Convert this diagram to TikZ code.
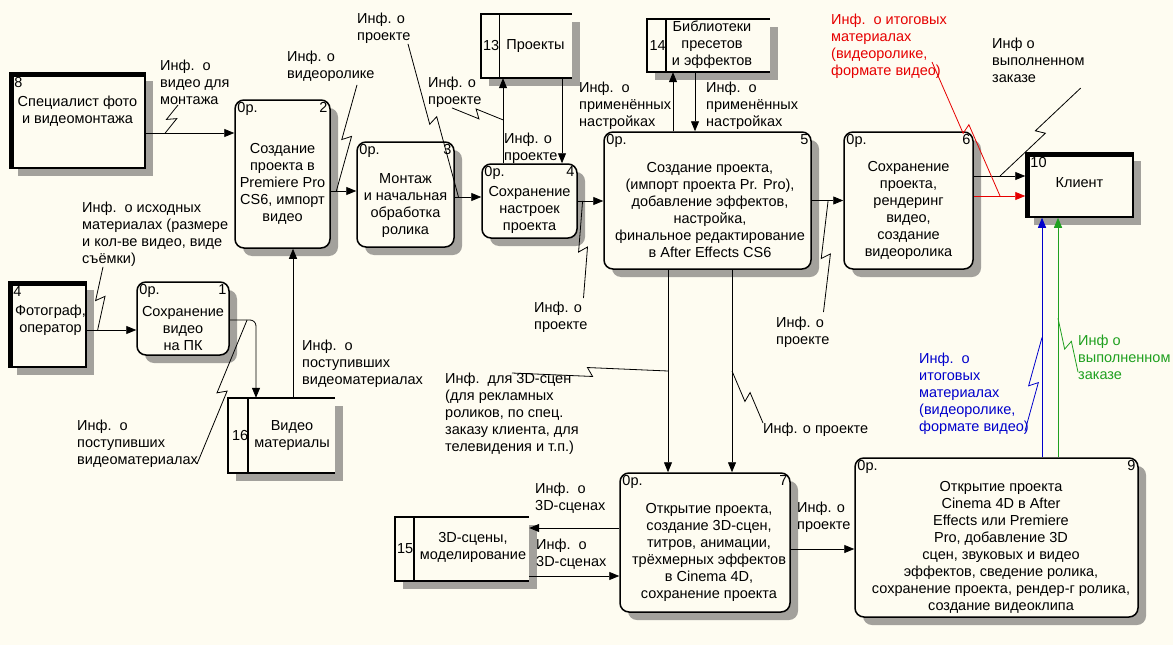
\documentclass[tikz,border=0pt]{standalone}
\usepackage{fontspec}
\setmainfont{Liberation Sans}
\usetikzlibrary{arrows.meta,calc}
\definecolor{paper}{HTML}{FEFCF1}
\definecolor{flowred}{HTML}{E60000}
\definecolor{flowblue}{HTML}{0000CC}
\definecolor{flowgreen}{HTML}{1FA01F}
\definecolor{shadowgray}{HTML}{A3A19C}

\begin{document}
\begin{tikzpicture}[x=1pt,y=-1pt,
  font=\fontsize{14.5}{17}\selectfont,
  boxsize/.style 2 args={minimum width=#1pt,minimum height=#2pt},
  proc/.style={draw,line width=1.5pt,rounded corners=9pt,fill=paper,inner sep=0pt},
  ent/.style={draw,line width=1.5pt,fill=paper,inner sep=0pt},
  store/.style={fill=paper,inner sep=0pt},
  hdr/.style={inner sep=3pt},
  enthdr/.style={inner sep=5pt,anchor=north west},
  body/.style={align=center,inner sep=0pt},
  note/.style={align=left,anchor=north west,inner sep=0pt},
  flow/.style={line width=0.8pt,-{Triangle[length=10pt,width=8pt]}},
  squig/.style={to path={-- ($(\tikztostart)!0.5!(\tikztotarget)!2.5pt!(\tikztotarget)!-4.5pt!90:(\tikztotarget)$) -- ($(\tikztostart)!0.5!(\tikztotarget)!-2.5pt!(\tikztotarget)!4.5pt!90:(\tikztotarget)$) -- (\tikztotarget)}},
  lead/.style={line width=0.8pt,squig}]
\fill[paper] (0,0) rectangle (1173,645);
\foreach \cx/\cy/\w/\h/\r in {282.5/174/95/148/9,405.5/194.5/97/105/9,529.5/201/95/74/9,707.5/200.5/207/137/9,
  908.5/200.5/129/137/9,183/318.5/92/73/9,705/542.5/170/139/9,996.5/537.5/283/159/9,
  77.5/120.5/135/95/0,47.5/324.5/77/85/0,1079.5/185/107/64/0,
  526.5/46/91/64/0,708.5/45.5/123/53/0,281.5/435.5/107/75/0,462/549/134/64/0}
  \fill[shadowgray,rounded corners=\r pt] (\cx-\w/2+8,\cy-\h/2+8) rectangle (\cx+\w/2+8,\cy+\h/2+8);

\node[ent,boxsize={135}{95},label={[enthdr]north west:8},
  label={[body,yshift=9pt]center:Специалист фото\\и видеомонтажа}] (e8) at (77.5,120.5) {};
\node[ent,boxsize={77}{85},label={[enthdr]north west:4},
  label={[body,yshift=4.5pt,xshift=3pt]center:Фотограф,\\оператор}] (e4) at (47.5,324.5) {};
\node[ent,boxsize={107}{64},label={[enthdr]north west:10},
  label={[body,yshift=2pt]center:Клиент}] (e10) at (1079.5,185) {};
\foreach \e in {e8,e4,e10}
  \draw[line width=4.5pt,line join=miter] ([xshift=2.25pt]\e.south west) -- ([xshift=2.25pt,yshift=-2.25pt]\e.north west) -- ([yshift=-2.25pt]\e.north east);

\node[proc,boxsize={95}{148},label={[hdr,anchor=north west]north west:0р.},label={[hdr,anchor=north east]north east:2},
  label={[body,yshift=-9.5pt]center:Создание\\проекта в\\Premiere Pro\\CS6, импорт\\видео}] (p2) at (282.5,174) {};
\node[proc,boxsize={97}{105},label={[hdr,anchor=north west]north west:0р.},label={[hdr,anchor=north east]north east:3},
  label={[body,yshift=-11pt]center:Монтаж\\и начальная\\обработка\\ролика}] (p3) at (405.5,194.5) {};
\node[proc,boxsize={95}{74},label={[hdr,anchor=north west]north west:0р.},label={[hdr,anchor=north east]north east:4},
  label={[body,yshift=-9pt]center:Сохранение\\настроек\\проекта}] (p4) at (529.5,201) {};
\node[proc,boxsize={207}{137},label={[hdr,anchor=north west]north west:0р.},label={[hdr,anchor=north east]north east:5},
  label={[body,yshift=-10pt,xshift=2.5pt]center:Создание проекта,\\(импорт проекта Pr. Pro),\\добавление эффектов,\\настройка,\\финальное редактирование\\в After Effects CS6}] (p5) at (707.5,200.5) {};
\node[proc,boxsize={129}{137},label={[hdr,anchor=north west]north west:0р.},label={[hdr,anchor=north east]north east:6},
  label={[body,yshift=-10pt]center:Сохранение\\проекта,\\рендеринг\\видео,\\создание\\видеоролика}] (p6) at (908.5,200.5) {};
\node[proc,boxsize={92}{73},label={[hdr,anchor=north west]north west:0р.},label={[hdr,anchor=north east]north east:1},
  label={[body,yshift=-10.5pt]center:Сохранение\\видео\\на ПК}] (p1) at (183,318.5) {};
\node[proc,boxsize={170}{139},label={[hdr,anchor=north west]north west:0р.},label={[hdr,anchor=north east]north east:7},
  label={[body,yshift=-10pt,xshift=4pt]center:Открытие проекта,\\создание 3D-сцен,\\титров, анимации,\\трёхмерных эффектов\\в Cinema 4D,\\сохранение проекта}] (p7) at (705,542.5) {};
\node[proc,boxsize={283}{159},label={[hdr,anchor=north west]north west:0р.},label={[hdr,anchor=north east]north east:9},
  label={[body,yshift=-9.5pt,xshift=4.5pt]center:Открытие проекта\\Cinema 4D в After\\Effects или Premiere\\Pro, добавление 3D\\сцен, звуковых и видео\\эффектов, сведение ролика,\\сохранение проекта, рендер-г ролика,\\создание видеоклипа}] (p9) at (996.5,537.5) {};

\node[store,boxsize={91}{64},label={[inner sep=2pt,anchor=west]west:13},
  label={[body,xshift=9pt]center:Проекты}] (s13) at (526.5,46) {};
\node[store,boxsize={123}{53},label={[inner sep=2.5pt,anchor=west]west:14},
  label={[body,xshift=3.5pt,yshift=1pt]center:Библиотеки\\пресетов\\и эффектов}] (s14) at (708.5,45.5) {};
\node[store,boxsize={107}{75},label={[inner sep=4pt,anchor=west]west:16},
  label={[body,xshift=10.5pt]center:Видео\\материалы}] (s16) at (281.5,435.5) {};
\node[store,boxsize={134}{64},label={[inner sep=2pt,anchor=west]west:15},
  label={[body,xshift=11pt,yshift=1.5pt]center:3D-сцены,\\моделирование}] (s15) at (462,549) {};
\foreach \s/\d in {s13/18.5,s14/19,s15/19,s16/20}
  \draw[line width=1.5pt] (\s.north east) -- (\s.north west) -- (\s.south west) -- (\s.south east)
    ([xshift=\d pt]\s.north west) -- ([xshift=\d pt]\s.south west);

\draw[flow] ([yshift=-12.5pt]e8.east) -- coordinate[pos=0.22] (c1) ([yshift=-12.5pt]e8.east -| p2.west);
\draw[flow] ([yshift=-5.5pt]e4.east) -- coordinate[pos=0.22] (c2) ([yshift=-5.5pt]e4.east -| p1.west);
\draw[flow,rounded corners=6pt] ([yshift=-1.5pt]p1.east) -| coordinate[pos=0.33] (c3) ([xshift=-25.5pt]s16.north);
\draw[flow] ([xshift=11.5pt]s16.north) -- ([xshift=11.5pt]s16.north |- p2.south);
\draw[flow] ([yshift=-17pt]p2.east) -- coordinate[pos=0.22] (c5) ([yshift=-17pt]p2.east -| p3.west);
\draw[flow] ([yshift=-2.5pt]p3.east) -- coordinate[pos=0.14] (c6) ([yshift=-2.5pt]p3.east -| p4.west);
\draw[flow] ([xshift=-26.5pt]p4.north) -- coordinate[pos=0.51] (c7) ([xshift=-26.5pt]p4.north |- s13.south);
\draw[flow] ([xshift=35.5pt]s13.south) -- ([xshift=35.5pt]s13.south |- p4.north);
\draw[flow] (p4.east) -- coordinate[pos=0.19] (c9) (p4.east -| p5.west);
\draw[flow] ([xshift=-34.5pt]p5.north) -- ([xshift=-34.5pt]p5.north |- s14.south);
\draw[flow] ([xshift=-13.5pt]s14.south) -- ([xshift=-13.5pt]s14.south |- p5.north);
\draw[flow] (p5.east) -- coordinate[pos=0.52] (c12) (p5.east -| p6.west);
\draw[flow] ([yshift=24.5pt]p6.east) -- coordinate[pos=0.51] (c13) ([yshift=24.5pt]p6.east -| e10.west);
\draw[flow,flowred] ([yshift=4.5pt]p6.east) -- coordinate[pos=0.51] (c14) ([yshift=4.5pt]p6.east -| e10.west);
\draw[flow,flowblue] ([xshift=45.5pt]p9.north) -- coordinate[pos=0.5] (c15) ([xshift=45.5pt]p9.north |- e10.south);
\draw[flow,flowgreen] ([xshift=61.5pt]p9.north) -- coordinate[pos=0.58] (c16) ([xshift=61.5pt]p9.north |- e10.south);
\draw[flow] ([xshift=-39.5pt]p5.south) -- coordinate[pos=0.5] (c17) ([xshift=-39.5pt]p5.south |- p7.north);
\draw[flow] ([xshift=24.5pt]p5.south) -- coordinate[pos=0.5] (c18) ([xshift=24.5pt]p5.south |- p7.north);
\draw[flow] ([yshift=14.5pt]p7.west) -- ([yshift=14.5pt]p7.west -| s15.east);
\draw[flow] ([yshift=-27pt]s15.east) -- ([yshift=-27pt]s15.east -| p7.west);
\draw[flow] ([yshift=-6.5pt]p7.east) -- ([yshift=-6.5pt]p7.east -| p9.west);

\node[note] (l1) at (160,60) {Инф.\ \ о\\видео для\\монтажа};
\node[note] (l2) at (82,202) {Инф.\ \ о исходных\\материалах (размере\\и кол-ве видео, виде\\съёмки)};
\node[note] (l3) at (77,420) {Инф.\ \ о\\поступивших\\видеоматериалах};
\node[note] (l4) at (302,340) {Инф.\ \ о\\поступивших\\видеоматериалах};
\node[note] (l5) at (287,51) {Инф. о\\видеоролике};
\node[note] (l6) at (357,13) {Инф. о\\проекте};
\node[note] (l7) at (504,133) {Инф. о\\проекте};
\node[note] (l8) at (428,77) {Инф. о\\проекте};
\node[note] (l9) at (534,302) {Инф. о\\проекте};
\node[note] (l10) at (579,82) {Инф.\ \ о\\применённых\\настройках};
\node[note] (l11) at (706,82) {Инф.\ \ о\\применённых\\настройках};
\node[note] (l12) at (776,317) {Инф. о\\проекте};
\node[note] (l13) at (992,38) {Инф о\\выполненном\\заказе};
\node[note,text=flowred] (l14) at (831,14) {Инф.\ \ о итоговых\\материалах\\(видеоролике,\\формате видео)};
\node[note,text=flowblue] (l15) at (919,353) {Инф.\ \ о\\итоговых\\материалах\\(видеоролике,\\формате видео)};
\node[note,text=flowgreen] (l16) at (1078,335) {Инф о\\выполненном\\заказе};
\node[note] (l17) at (445,373) {Инф.\ \ для 3D-сцен\\(для рекламных\\роликов, по спец.\\заказу клиента, для\\телевидения и т.п.)};
\node[note] (l18) at (763,423) {Инф. о проекте};
\node[note] (l19) at (535,483) {Инф.\ \ о\\3D-сценах};
\node[note] (l20) at (536,539) {Инф.\ \ о\\3D-сценах};
\node[note] (l21) at (797,502) {Инф. о\\проекте};

\draw[lead] ([xshift=18pt]l1.south west) to (c1);
\draw[lead] ([xshift=21pt]l2.south west) to (c2);
\draw[lead] ([shift={(-1,-4)}]l3.south east) to (c3);
\draw[lead] ([shift={(70,3)}]l5.south west) to (c5);
\draw[lead] ([xshift=51pt]l6.south west) to (c6);
\draw[lead] ([xshift=24pt]l8.south west) to (c7);
\draw[lead] ([shift={(-4,-4)}]l9.north east) to (c9);
\draw[lead] ([shift={(-6,-5)}]l12.north east) to (c12);
\draw[lead] ([shift={(-4,5)}]l13.south east) to (c13);
\draw[lead,flowred] ([shift={(-15,15.5)}]l14.east) to (c14);
\draw[lead,flowblue] ([shift={(-4,-4)}]l15.south east) to (c15);
\draw[lead,flowgreen] ([shift={(0,-8)}]l16.south west) to (c16);
\draw[lead] ([xshift=67pt]l17.north west) to (c17);
\draw[lead] (l18.north west) to (c18);
\end{tikzpicture}
\end{document}
